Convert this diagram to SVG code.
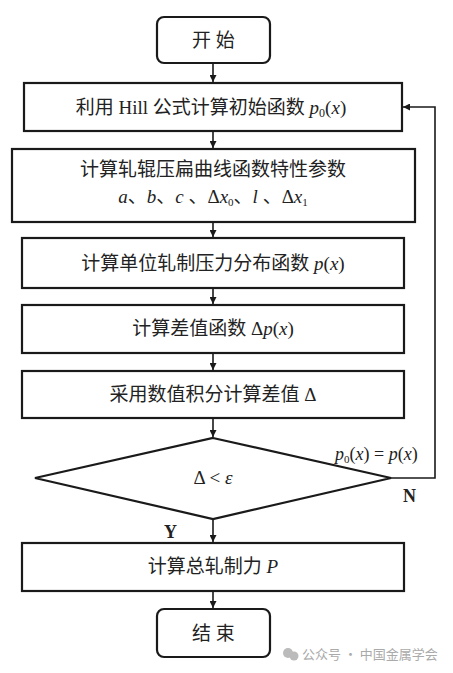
<svg xmlns="http://www.w3.org/2000/svg" width="453" height="673" viewBox="0 0 453 673">
<style>
.box{fill:#fff;stroke:#1a1a1a;stroke-width:2.2}
.t{font-family:"Liberation Serif","Noto Sans CJK SC",serif;font-size:19px;fill:#222;text-anchor:middle}
.i{font-family:"Liberation Serif",serif;font-style:italic}
.c{stroke:#1a1a1a;stroke-width:1.6;fill:none}
.lbl{font-family:"Liberation Serif",serif;font-size:18px;fill:#222}
.wm{font-family:"Noto Sans CJK SC",sans-serif;font-size:13px;fill:#aaa}
</style>
<defs>
<marker id="ah" viewBox="0 0 10 10" refX="10" refY="5" markerWidth="7" markerHeight="7" orient="auto" markerUnits="userSpaceOnUse">
<path d="M0,0 L10,5 L0,10 z" fill="#1a1a1a"/>
</marker>
</defs>
<rect width="453" height="673" fill="#fff"/>
<g id="connectors">
<line class="c" x1="213" y1="63" x2="213" y2="82" marker-end="url(#ah)"/>
<line class="c" x1="213" y1="131" x2="213" y2="148" marker-end="url(#ah)"/>
<line class="c" x1="213" y1="222" x2="213" y2="237" marker-end="url(#ah)"/>
<line class="c" x1="213" y1="288" x2="213" y2="304" marker-end="url(#ah)"/>
<line class="c" x1="213" y1="353" x2="213" y2="370" marker-end="url(#ah)"/>
<line class="c" x1="213" y1="418" x2="213" y2="437" marker-end="url(#ah)"/>
<line class="c" x1="213" y1="519" x2="213" y2="542" marker-end="url(#ah)"/>
<line class="c" x1="213" y1="591" x2="213" y2="608" marker-end="url(#ah)"/>
<polyline class="c" points="391,478 435,478 435,107 403,107" marker-end="url(#ah)"/>
<text class="lbl" x="335" y="460"><tspan class="i">p</tspan><tspan font-size="11" dy="3">0</tspan><tspan dy="-3">(</tspan><tspan class="i">x</tspan>) = <tspan class="i">p</tspan>(<tspan class="i">x</tspan>)</text>
<text class="lbl" x="403" y="502" font-weight="bold">N</text>
<text class="lbl" x="164" y="538" font-weight="bold">Y</text>
</g>
<g id="start">
<rect class="box" x="157" y="17" width="113" height="46" rx="7"/>
<text class="t" x="213.5" y="47">开 始</text>
</g>
<g id="step1">
<rect class="box" x="24" y="83" width="378" height="48"/>
<text class="t" x="211" y="114">利用 Hill 公式计算初始函数 <tspan class="i">p</tspan><tspan font-size="12" dy="3">0</tspan><tspan dy="-3">(</tspan><tspan class="i">x</tspan>)</text>
</g>
<g id="step2">
<rect class="box" x="12" y="149" width="403" height="73"/>
<text class="t" x="213" y="176">计算轧辊压扁曲线函数特性参数</text>
<text class="t" x="213" y="203"><tspan class="i">a</tspan>、<tspan class="i">b</tspan>、<tspan class="i">c</tspan> 、Δ<tspan class="i">x</tspan><tspan font-size="11" dy="3">0</tspan><tspan dy="-3">、</tspan><tspan class="i">l</tspan> 、Δ<tspan class="i">x</tspan><tspan font-size="11" dy="3">1</tspan></text>
</g>
<g id="step3">
<rect class="box" x="22" y="238" width="382" height="50"/>
<text class="t" x="213" y="270">计算单位轧制压力分布函数 <tspan class="i">p</tspan>(<tspan class="i">x</tspan>)</text>
</g>
<g id="step4">
<rect class="box" x="22" y="305" width="382" height="48"/>
<text class="t" x="213" y="335">计算差值函数 Δ<tspan class="i">p</tspan>(<tspan class="i">x</tspan>)</text>
</g>
<g id="step5">
<rect class="box" x="22" y="371" width="382" height="47"/>
<text class="t" x="213" y="401">采用数值积分计算差值 Δ</text>
</g>
<g id="decision">
<polygon class="box" points="213,438 391,478 213,519 35,478"/>
<text class="t" x="213" y="484">Δ &lt; <tspan class="i">ε</tspan></text>
</g>
<g id="step6">
<rect class="box" x="22" y="543" width="382" height="48"/>
<text class="t" x="213" y="573">计算总轧制力 <tspan class="i">P</tspan></text>
</g>
<g id="end">
<rect class="box" x="157" y="609" width="113" height="48" rx="7"/>
<text class="t" x="213.5" y="640">结 束</text>
</g>
<g id="watermark">
<circle cx="288" cy="653" r="5" fill="#bbb"/>
<circle cx="294" cy="656" r="4.5" fill="#bbb"/>
<text class="wm" x="302" y="659">公众号 · 中国金属学会</text>
</g>
</svg>
